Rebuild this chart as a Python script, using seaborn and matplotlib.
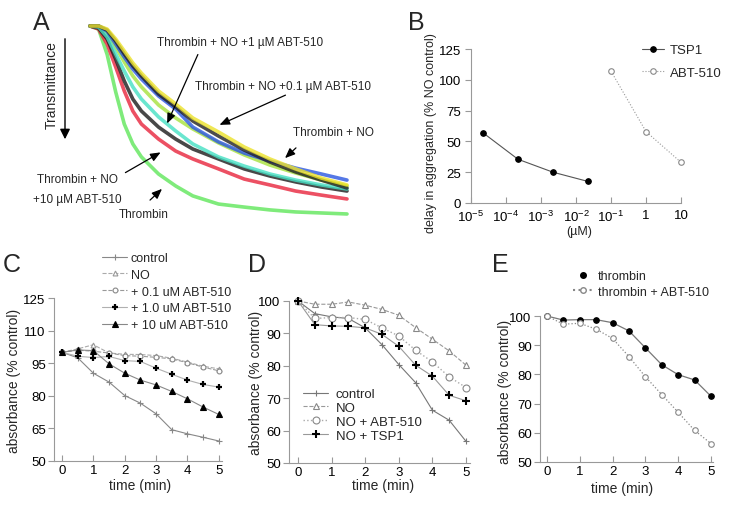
"""Multi-panel platelet aggregation figure (A-E)"""
import matplotlib.pyplot as plt
import numpy as np
import pandas as pd
import seaborn as sns
from matplotlib.lines import Line2D

sns.set_style("ticks")
plt.rcParams.update(
    {
        "font.size": 9,
        "mathtext.fontset": "custom",
        "mathtext.rm": "Liberation Sans",
        "mathtext.it": "Liberation Sans:italic",
        "axes.edgecolor": "#999999",
        "axes.linewidth": 0.8,
        "xtick.color": "#999999",
        "ytick.color": "#999999",
        "xtick.labelcolor": "black",
        "ytick.labelcolor": "black",
    }
)
plt.rcParams["font.family"] = ["Liberation Sans", "DejaVu Sans"]

# ---- panel A: aggregometer traces (time in s, transmittance in % of start)
trace_time = [0, 10, 20, 30, 40, 50, 60, 80, 100, 120, 150, 180, 210, 240, 270, 300]
trace_thrombin = [100, 98.5, 86, 67.5, 51.7, 41.9, 35.5, 27.1, 21.2, 16.3, 12.3, 10.8, 9.4, 8.4, 7.9, 7.4]
trace_abt10 = [100, 98.5, 91.1, 79.8, 68, 58.1, 51.7, 44.3, 38.4, 34.5, 29.6, 24.6, 21.7, 18.7, 16.7, 14.8]
trace_abt10b = [100, 99, 93.6, 83.7, 72.9, 64, 58.1, 50.2, 44.3, 39.4, 34.5, 29.6, 26.1, 23.2, 20.7, 18.7]
trace_abt1 = [100, 99.5, 94.6, 86.2, 77.8, 70, 64, 55.2, 48.3, 41.9, 35.5, 31, 27.1, 24.1, 21.7, 19.7]
trace_lime = [100, 100, 97, 89.7, 82.3, 75.4, 70, 61.1, 54.7, 49.3, 42.4, 36.5, 31.5, 27.6, 24.1, 21.2]
trace_no = [100, 100, 97.5, 91.1, 84.7, 78.8, 73.9, 65.5, 59.1, 50.2, 42.9, 37.4, 33.5, 30, 27.1, 24.1]
trace_abt01b = [100, 100, 98, 92.6, 86.2, 80.3, 75.4, 66.5, 60.1, 53.2, 45.8, 38.9, 33, 28.1, 24.1, 20.2]
trace_abt01 = [100, 100, 98.5, 93.6, 87.7, 81.8, 76.8, 68, 61.6, 54.7, 47.8, 40.4, 34.5, 29.6, 25.1, 21.7]

# ---- panel B: dose response
tsp1_conc = [2.2e-5, 2.2e-4, 2.2e-3, 2.2e-2]
tsp1_delay = [57, 35.5, 25, 17.5]
abt_conc = [0.1, 1, 10]
abt_delay = [107, 58, 33]

# ---- panels C-E: absorbance time courses
time_min = [0, 0.5, 1, 1.5, 2, 2.5, 3, 3.5, 4, 4.5, 5]
c_control = [100, 97.5, 90.4, 86.3, 80.1, 76.6, 71.7, 64.4, 62.5, 60.9, 59.2]
c_no = [100, 101.6, 103.5, 99.7, 99.1, 99, 98.5, 97.3, 95.5, 93.6, 92.4]
c_abt01 = [100, 101, 100.5, 99.7, 98.5, 98.2, 97.7, 97, 95.2, 93.2, 91.5]
c_abt1 = [100, 98.2, 97.6, 98.1, 96.2, 95.8, 92.7, 89.9, 87.2, 85.2, 84]
c_abt10 = [100, 101.1, 100.8, 94.7, 90.4, 87.2, 85, 82, 78.6, 74.8, 71.4]

d_control = [100, 96.1, 95.1, 94.6, 91.7, 86.5, 80.4, 74.8, 66.3, 63.2, 56.7]
d_no = [100, 99, 99, 99.7, 98.7, 97.4, 95.6, 91.8, 88.2, 84.6, 80.2]
d_abt = [100, 94.6, 94.9, 94.9, 94.3, 91.7, 89.2, 84.8, 81.2, 76.6, 73.3]
d_tsp1 = [100, 92.7, 92.3, 92.2, 91.7, 89.7, 86, 80.2, 76.8, 70.9, 69.2]

e_thrombin = [100, 98.6, 98.75, 98.75, 97.7, 94.9, 89.1, 83.3, 79.9, 78.1, 72.5]
e_abt = [100, 97.2, 97.5, 95.5, 92.3, 86.1, 79.2, 73.1, 67, 60.8, 56.3]

W, H = 736, 510


def rect(l, t, r, b):
    return [l / W, 1 - b / H, (r - l) / W, (b - t) / H]


def fxy(x, y):
    return (x / W, 1 - y / H)


def style_axes(ax, size=9.5):
    sns.despine(ax=ax)
    ax.tick_params(axis="x", direction="in", length=4, width=0.8, pad=2, labelsize=size)
    ax.tick_params(axis="y", direction="out", length=4, width=0.8, pad=2, labelsize=size)


def series(ax, x, y, color, ls="-", marker="o", mfc=None, mec=None, ms=4, mew=0.8, label=None, lw=0.8):
    sns.lineplot(
        x=x, y=y, ax=ax, color=color, linestyle=ls, lw=lw, marker=marker,
        markersize=ms, markerfacecolor=mfc if mfc else color,
        markeredgecolor=mec if mec else color, markeredgewidth=mew,
        label=label, legend=False, clip_on=False,
    )


fig = plt.figure(figsize=(W / 100, H / 100), dpi=100)

# ---------------- A
axA = fig.add_axes(rect(90, 27, 347, 230))
traces = [
    (trace_thrombin, "#5fe65a"),
    (trace_lime, "#a6e23c"),
    (trace_abt10, "#e8243c"),
    (trace_abt10b, "#1a1a1a"),
    (trace_abt1, "#45e0c4"),
    (trace_no, "#2a56e0"),
    (trace_abt01b, "#202020"),
    (trace_abt01, "#ece22a"),
]
for vals, col in traces:
    sns.lineplot(x=trace_time, y=vals, ax=axA, color=col, lw=2.6, alpha=0.8,
                 legend=False, clip_on=False)
axA.set_xlim(0, 300)
axA.set_ylim(0, 100)
axA.set_axis_off()

fig.text(*fxy(52, 85), "Transmittance", rotation=90, ha="center", va="center", fontsize=10)
fig.add_artist(plt.matplotlib.patches.FancyArrowPatch(
    fxy(65, 37), fxy(65, 143), transform=fig.transFigure,
    arrowstyle="-|>,head_length=6,head_width=3", color="black", lw=1))

notes = [
    ("Thrombin + NO +1 \u00b5M ABT-510", (240, 43), (199, 53), (166, 127)),
    ("Thrombin + NO +0.1 \u00b5M ABT-510", (283, 87), (288, 95), (217, 127)),
    ("Thrombin + NO", (333, 133), (298, 147), (283, 161)),
    ("Thrombin + NO", (77, 180), (123, 175), (163, 152)),
    ("Thrombin", (144, 215), (148, 203), (164, 188)),
]
for txt, tpos, a0, a1 in notes:
    fig.text(*fxy(*tpos), txt, ha="center", va="center", fontsize=8.5)
    fig.add_artist(plt.matplotlib.patches.FancyArrowPatch(
        fxy(*a0), fxy(*a1), transform=fig.transFigure,
        arrowstyle="-|>,head_length=6,head_width=2.5", color="black", lw=0.9))
fig.text(*fxy(77, 200), "+10 \u00b5M ABT-510", ha="center", va="center", fontsize=8.5)

# ---------------- B
axB = fig.add_axes(rect(471, 50, 681, 204))
axB.set_xscale("log")
series(axB, tsp1_conc, tsp1_delay, "#555555", mfc="black", mec="black", ms=4, label="TSP1")
series(axB, abt_conc, abt_delay, "#999999", ls=":", mfc="white", mec="#888888", ms=4, label="ABT-510")
axB.set_xlim(1e-5, 10)
axB.set_ylim(0, 125)
axB.set_yticks([0, 25, 50, 75, 100, 125])
axB.set_xticks([1e-5, 1e-4, 1e-3, 1e-2, 1e-1, 1, 10])
axB.set_xticklabels([r"$\mathregular{10^{-5}}$", r"$\mathregular{10^{-4}}$", r"$\mathregular{10^{-3}}$",
                     r"$\mathregular{10^{-2}}$", r"$\mathregular{10^{-1}}$", "1", "10"])
style_axes(axB, size=9.5)
axB.tick_params(axis="x", which="major", pad=4)
axB.tick_params(axis="y", pad=3)
axB.tick_params(axis="x", which="minor", direction="in", length=2.5, width=0.6)
axB.set_ylabel("delay in aggregation (% NO control)", fontsize=9)
axB.set_xlabel("(\u00b5M)", fontsize=9)
axB.yaxis.set_label_coords(-0.16, 0.46)
axB.xaxis.set_label_coords(0.514, -0.14)
axB.legend(loc="upper left", bbox_to_anchor=fxy(642, 45), bbox_transform=fig.transFigure,
           frameon=False, fontsize=9.5, handlelength=1.7, handletextpad=0.4,
           labelspacing=0.8, borderpad=0, borderaxespad=0)

# ---------------- C
axC = fig.add_axes(rect(54, 299, 222, 462))
series(axC, time_min, c_control, "#888888", marker="+", ms=5, mew=0.8, label="control")
series(axC, time_min, c_no, "#aaaaaa", ls="--", marker="^", mfc="white", mec="#999999", ms=3.5, label="NO")
series(axC, time_min, c_abt01, "#999999", ls="--", marker="o", mfc="white", mec="#888888", ms=3.5,
       label="+ 0.1 uM ABT-510")
series(axC, time_min, c_abt1, "#b0b0b0", marker="+", mec="black", ms=5, mew=1.6, label="+ 1.0 uM ABT-510")
series(axC, time_min, c_abt10, "#888888", marker="^", mfc="black", mec="black", ms=4,
       label="+ 10 uM ABT-510")
axC.set_xlim(-0.255, 5.1)
axC.set_ylim(50, 125)
axC.set_yticks([50, 65, 80, 95, 110, 125])
axC.set_xticks([0, 1, 2, 3, 4, 5])
style_axes(axC)
axC.set_ylabel("absorbance (% control)", fontsize=10)
axC.set_xlabel("time (min)", fontsize=10)
axC.yaxis.set_label_coords(-0.196, 0.5)
axC.xaxis.set_label_coords(0.512, -0.105)
axC.legend(loc="upper left", bbox_to_anchor=fxy(102, 253), bbox_transform=fig.transFigure,
           frameon=False, fontsize=9, handlelength=2.0, handletextpad=0.3,
           labelspacing=0.38, borderpad=0, borderaxespad=0)

# ---------------- D
axD = fig.add_axes(rect(289, 302, 470, 464))
series(axD, time_min, d_control, "#777777", marker="+", ms=5, mew=0.8, label="control")
series(axD, time_min, d_no, "#999999", ls="--", marker="^", mfc="white", mec="#888888", ms=4, label="NO")
series(axD, time_min, d_abt, "#aaaaaa", ls=":", marker="o", mfc="white", mec="#888888", ms=5, lw=1,
       label="NO + ABT-510")
series(axD, time_min, d_tsp1, "#999999", marker="+", mec="black", ms=5.5, mew=1.5, label="NO + TSP1")
axD.set_xlim(-0.27, 5.12)
axD.set_ylim(50, 100)
axD.set_yticks([50, 60, 70, 80, 90, 100])
axD.set_xticks([0, 1, 2, 3, 4, 5])
style_axes(axD)
axD.set_ylabel("absorbance (% control)", fontsize=10)
axD.set_xlabel("time (min)", fontsize=10)
axD.yaxis.set_label_coords(-0.144, 0.5)
axD.xaxis.set_label_coords(0.52, -0.095)
axD.legend(loc="upper left", bbox_to_anchor=fxy(303, 389), bbox_transform=fig.transFigure,
           frameon=False, fontsize=9.5, handlelength=1.9, handletextpad=0.6,
           labelspacing=0.12, borderpad=0, borderaxespad=0)

# ---------------- E
axE = fig.add_axes(rect(540, 317, 713, 463))
series(axE, time_min, e_thrombin, "#777777", marker="o", mfc="black", mec="black", ms=4, lw=0.9)
series(axE, time_min, e_abt, "#888888", ls=":", marker="o", mfc="white", mec="#888888", ms=4, lw=0.9)
axE.set_xlim(-0.21, 5.06)
axE.set_ylim(50, 100)
axE.set_yticks([50, 60, 70, 80, 90, 100])
axE.set_xticks([0, 1, 2, 3, 4, 5])
style_axes(axE)
axE.set_ylabel("absorbance (% control)", fontsize=10)
axE.set_xlabel("time (min)", fontsize=10)
axE.yaxis.set_label_coords(-0.162, 0.486)
axE.xaxis.set_label_coords(0.474, -0.13)
e_handles = [
    Line2D([], [], ls="none", marker="o", ms=4, color="black"),
    Line2D([], [], ls=":", color="#888888", marker="o", ms=4, mfc="white", mec="#888888"),
]
axE.legend(e_handles, ["thrombin", "thrombin + ABT-510"], loc="upper left",
           bbox_to_anchor=fxy(573, 271), bbox_transform=fig.transFigure,
           frameon=False, fontsize=9, handlelength=1.6, handletextpad=0.4,
           labelspacing=0.3, borderpad=0, borderaxespad=0)

# panel letters
for letter, (lx, ly) in zip("ABCDE", [(33, 23), (408, 23), (3, 265), (248, 265), (492, 265)]):
    fig.text(*fxy(lx, ly), letter, fontsize=18, ha="left", va="center")

fig.savefig("out.png", dpi=100)
plt.close(fig)
